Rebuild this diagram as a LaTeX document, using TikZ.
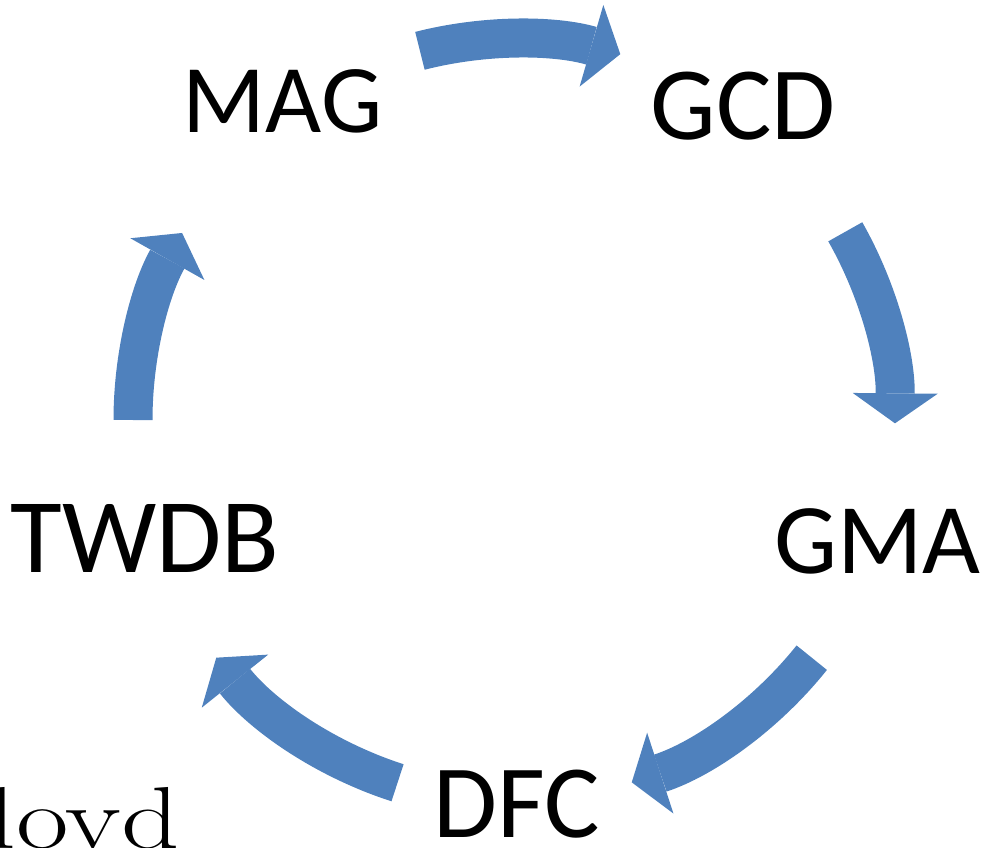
\documentclass[tikz,border=0pt]{standalone}
\usepackage{fontspec}
\usepackage{graphicx}
\newfontfamily\calib{Carlito}
\usetikzlibrary{arrows.meta}
\definecolor{cycleblue}{HTML}{4F81BD}

\begin{document}
\begin{tikzpicture}[x=1pt, y=1pt,
    flow/.style={draw=cycleblue, line width=39pt,
        -{Triangle[length=30pt, width=85pt, line width=0pt]}},
    lbl/.style={inner sep=0pt, anchor=base, font=\calib}]
    \useasboundingbox (0,0) rectangle (992,847);
    \coordinate (C) at (514,427);

    % the five stages
    \node[lbl, font=\calib\fontsize{97}{110}\selectfont] (MAG) at (282.5,714) {MAG};
    \node[lbl, font=\calib\fontsize{104}{120}\selectfont] (GCD) at (743,707) {GCD};
    \node[lbl, font=\calib\fontsize{100}{120}\selectfont] (GMA) at (877.5,274) {GMA};
    \node[lbl, font=\calib\fontsize{106}{120}\selectfont] (TWDB) at (145,275) {TWDB};
    \node[lbl, font=\calib\fontsize{104}{120}\selectfont] (DFC) at (516.5,10) {DFC};

    % curved block arrows round the circle
    \foreach \i/\a/\b in {1/104.3/73.8, 2/29.6/-0.5, 3/-38.6/-72, 4/-107.8/-141.4, 5/180/150.6} {
        \path (C) ++(\a:381) coordinate (s\i);
        \draw[flow] (s\i) arc[start angle=\a, end angle=\b, radius=381pt];
    }

    \node[inner sep=0pt, anchor=base east, font=\fontsize{88}{100}\selectfont] (logo) at (180,-1) {\scalebox{1.3}[1]{Lloyd}};
\end{tikzpicture}
\end{document}
